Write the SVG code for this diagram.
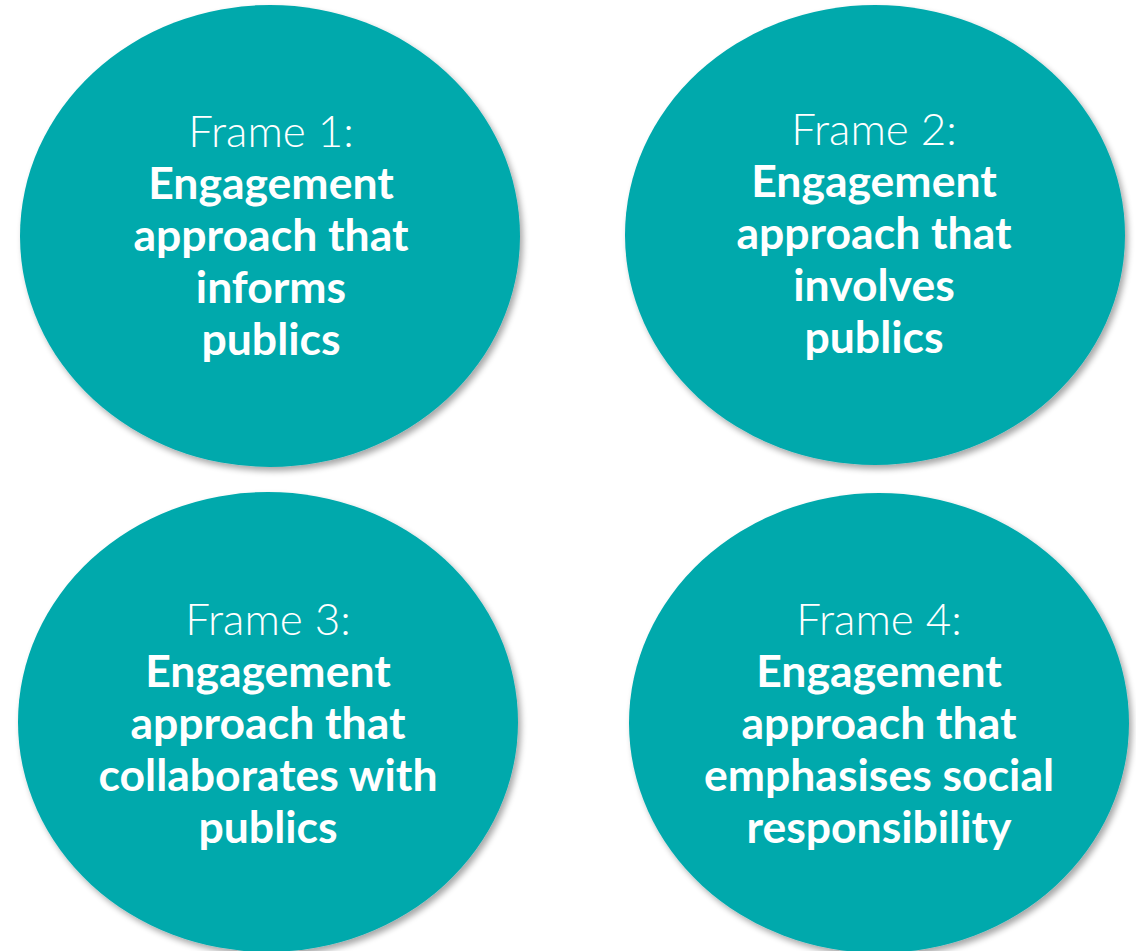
<svg xmlns="http://www.w3.org/2000/svg" width="1136" height="951" viewBox="0 0 1136 951">
<style>
.c{fill:#02A9AC}
.t{font-family:Lato,"Open Sans",sans-serif;fill:#fff;text-anchor:middle;font-size:44.5px}
.r{font-weight:300;font-size:44px}
.b{font-weight:700}
</style>
<defs>
<filter id="sh" x="-10%" y="-10%" width="125%" height="125%">
<feGaussianBlur in="SourceAlpha" stdDeviation="3"/>
<feOffset dx="3" dy="4"/>
<feComponentTransfer><feFuncA type="linear" slope="0.35"/></feComponentTransfer>
<feMerge><feMergeNode/><feMergeNode in="SourceGraphic"/></feMerge>
</filter>
</defs>
<rect width="1136" height="951" fill="#fff"/>
<g id="connectors"></g>
<g id="frame1">
<ellipse class="c" cx="270" cy="236" rx="250" ry="231" filter="url(#sh)"/>
<text class="t r" x="271" y="147">Frame 1:</text>
<text class="t b" x="271" y="199">Engagement</text>
<text class="t b" x="271" y="251">approach that</text>
<text class="t b" x="271" y="303">informs</text>
<text class="t b" x="271" y="355">publics</text>
</g>
<g id="frame2">
<ellipse class="c" cx="875" cy="235" rx="250" ry="230" filter="url(#sh)"/>
<text class="t r" x="874" y="145">Frame 2:</text>
<text class="t b" x="874" y="197">Engagement</text>
<text class="t b" x="874" y="249">approach that</text>
<text class="t b" x="874" y="301">involves</text>
<text class="t b" x="874" y="353">publics</text>
</g>
<g id="frame3">
<ellipse class="c" cx="268" cy="722" rx="250" ry="230" filter="url(#sh)"/>
<text class="t r" x="268" y="635">Frame 3:</text>
<text class="t b" x="268" y="687">Engagement</text>
<text class="t b" x="268" y="739">approach that</text>
<text class="t b" x="268" y="791">collaborates with</text>
<text class="t b" x="268" y="843">publics</text>
</g>
<g id="frame4">
<ellipse class="c" cx="879" cy="723" rx="250" ry="230" filter="url(#sh)"/>
<text class="t r" x="879" y="635">Frame 4:</text>
<text class="t b" x="879" y="687">Engagement</text>
<text class="t b" x="879" y="739">approach that</text>
<text class="t b" x="879" y="791">emphasises social</text>
<text class="t b" x="879" y="843">responsibility</text>
</g>
</svg>
